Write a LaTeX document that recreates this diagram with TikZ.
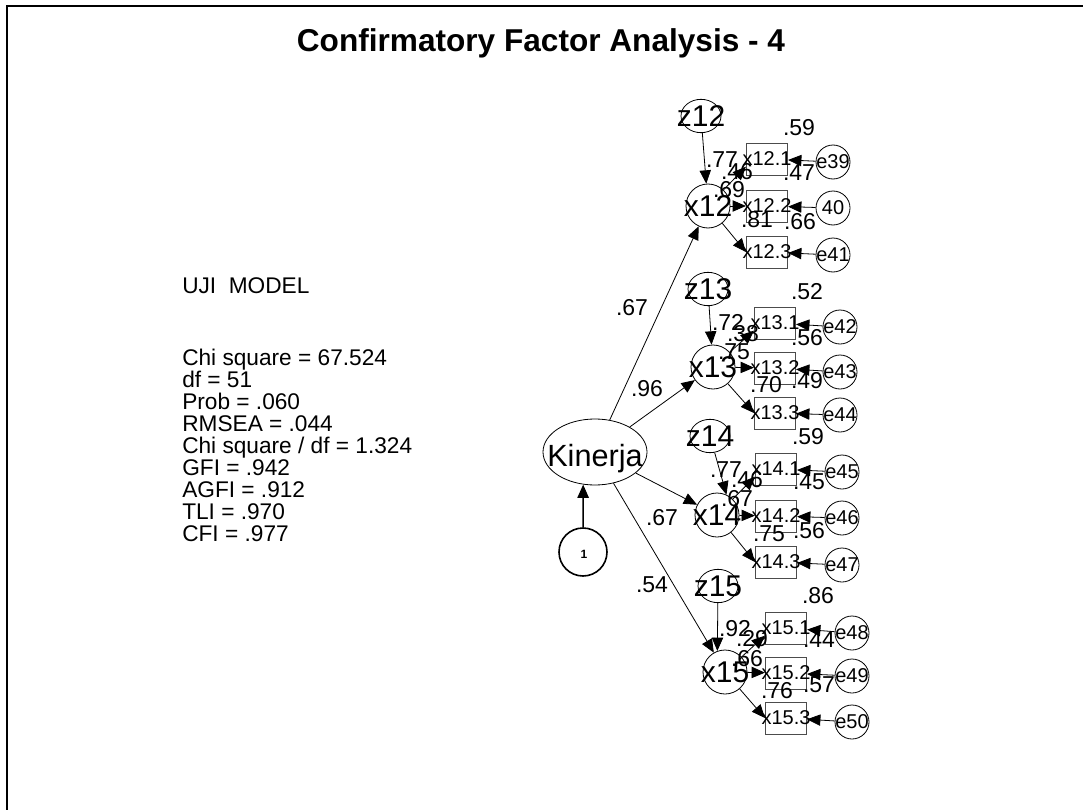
\documentclass[tikz,border=0pt]{standalone}
\usepackage{fontspec}
\setmainfont{Liberation Sans}
\usetikzlibrary{arrows.meta,shapes.geometric}
\begin{document}
\begin{tikzpicture}[x=0.75pt,y=-0.75pt,
  arr/.style={-{Triangle[length=10pt,width=8.5pt]}, line width=0.6pt},
  lat/.style={circle,draw,line width=0.6pt,minimum size=33pt,inner sep=0pt},
  dist/.style={ellipse,draw,line width=0.6pt,minimum width=30pt,minimum height=25pt,inner sep=0pt},
  obs/.style={rectangle,draw=black!70,line width=0.6pt,minimum width=31pt,minimum height=24pt,inner sep=0pt},
  err/.style={circle,draw,line width=0.6pt,minimum size=25.5pt,inner sep=0pt},
  bigtxt/.style={font=\fontsize{22.5}{24}\selectfont,inner sep=0pt,text depth=0pt},
  smalltxt/.style={font=\fontsize{15}{16}\selectfont,inner sep=0pt,text depth=0pt},
  coef/.style={font=\fontsize{17.25}{18}\selectfont,inner sep=0pt,text depth=0pt},
  stat/.style={font=\fontsize{17}{17}\selectfont,inner sep=0pt,anchor=base west},
]
\useasboundingbox (0,0) rectangle (1083,810);
\fill[white] (0,0) rectangle (1083,810);
% frame
\draw[line width=1.6pt] (7,810) -- (7,6) -- (1083,6);

% title
\node[font=\fontsize{23.7}{26}\selectfont\bfseries,inner sep=0pt,text depth=0pt] (title) at (541,40) {Confirmatory Factor Analysis - 4};

% fit statistics
\node[stat] (hdr) at (182,293) {UJI\ \ MODEL};
\foreach \t [count=\i] in {Chi square = 67.524, df = 51, Prob = .060, RMSEA = .044,
  Chi square / df = 1.324, GFI = .942, AGFI = .912, TLI = .970, CFI = .977}
  \node[stat] (s\i) at (182,343+22*\i) {\t};

% second-order factor
\node[ellipse,draw,line width=0.6pt,minimum width=78pt,minimum height=49.5pt,inner sep=0pt] (kin) at (595,452) {};
\node[font=\fontsize{23}{25}\selectfont,inner sep=0pt,text depth=0pt] (kint) at (595,455) {Kinerja};
\node[circle,draw,line width=1.2pt,minimum size=36pt,inner sep=0pt] (one) at (583,552) {};
\node[font=\fontsize{9}{10}\selectfont\bfseries,inner sep=0pt,text depth=0pt] (onet) at (584,554) {1};
\draw[arr,line width=1.2pt] (one) -- (kin.250);

% first-order factors
\node[lat] (x12) at (708,206) {};  \node[bigtxt] (x12t) at (x12) {x12};
\node[lat] (x13) at (713,367) {};  \node[bigtxt] (x13t) at (x13) {x13};
\node[lat] (x14) at (717,515) {};  \node[bigtxt] (x14t) at (x14) {x14};
\node[lat] (x15) at (725,672) {};  \node[bigtxt] (x15t) at (x15) {x15};

% disturbances
\node[dist] (z12) at (701,116) {}; \node[bigtxt] (z12t) at (z12) {z12};
\node[dist] (z13) at (708,289) {}; \node[bigtxt] (z13t) at (z13) {z13};
\node[dist] (z14) at (710,436) {}; \node[bigtxt] (z14t) at (z14) {z14};
\node[dist] (z15) at (718,586) {}; \node[bigtxt] (z15t) at (z15) {z15};

% indicators and their errors
\foreach \f/\bx/\ex/\ya/\yb/\yc/\ea/\eb/\ec/\ey/\eya/\eyb in {
   12/767/833/159/206/252/e39/40/e41/162/208/255,
   13/775/840/323/368/413/e42/e43/e44/327/372/415,
   14/776/842/469/516/562/e45/e46/e47/472/518/565,
   15/786/852/628/673/718/e48/e49/e50/633/676/722}{
  \node[obs] (x\f1) at (\bx,\ya) {}; \node[smalltxt] (x\f1t) at (x\f1) {x\f.1};
  \node[obs] (x\f2) at (\bx,\yb) {}; \node[smalltxt] (x\f2t) at (x\f2) {x\f.2};
  \node[obs] (x\f3) at (\bx,\yc) {}; \node[smalltxt] (x\f3t) at (x\f3) {x\f.3};
  \node[err] (e\f1) at (\ex,\ey)  {}; \node[smalltxt] (e\f1t) at (e\f1) {\ea};
  \node[err] (e\f2) at (\ex,\eya) {}; \node[smalltxt] (e\f2t) at (e\f2) {\eb};
  \node[err] (e\f3) at (\ex,\eyb) {}; \node[smalltxt] (e\f3t) at (e\f3) {\ec};
  \draw[arr] (x\f) -- (x\f1.200);
  \draw[arr] (x\f) -- (x\f2);
  \draw[arr] (x\f) -- (x\f3.west);
  \draw[arr] (e\f1) -- (x\f1);
  \draw[arr] (e\f2) -- (x\f2);
  \draw[arr] (e\f3) -- (x\f3);
}

% structural paths
\draw[arr] (kin) -- (x12);
\draw[arr] (kin) -- (x13);
\draw[arr] (kin) -- (x14);
\draw[arr] (kin) -- (x15.120);
\draw[arr] (z12) -- (x12);
\draw[arr] (z13) -- (x13);
\draw[arr] (z14) -- (x14.65);
\draw[arr] (z15) -- (x15.110);

% estimates
\foreach \v/\px/\py [count=\k] in {
   .67/632/307, .96/647/388, .67/662/517, .54/652/585,
   .59/799/127, .77/722/160, .46/737/171, .69/729/189, .47/799/173, .81/757/219, .66/800/221,
   .52/807/291, .72/728/322, .38/743/333, .75/734/352, .56/807/337, .70/766/384, .49/807/380,
   .59/808/436, .77/726/470, .46/747/479, .67/737/498, .45/809/482, .75/769/534, .56/809/530,
   .86/818/595, .92/735/628, .29/752/638, .66/747/658, .44/819/640, .76/777/690, .57/819/685}
  \node[coef] (c\k) at (\px,\py) {\v};
\end{tikzpicture}
\end{document}
